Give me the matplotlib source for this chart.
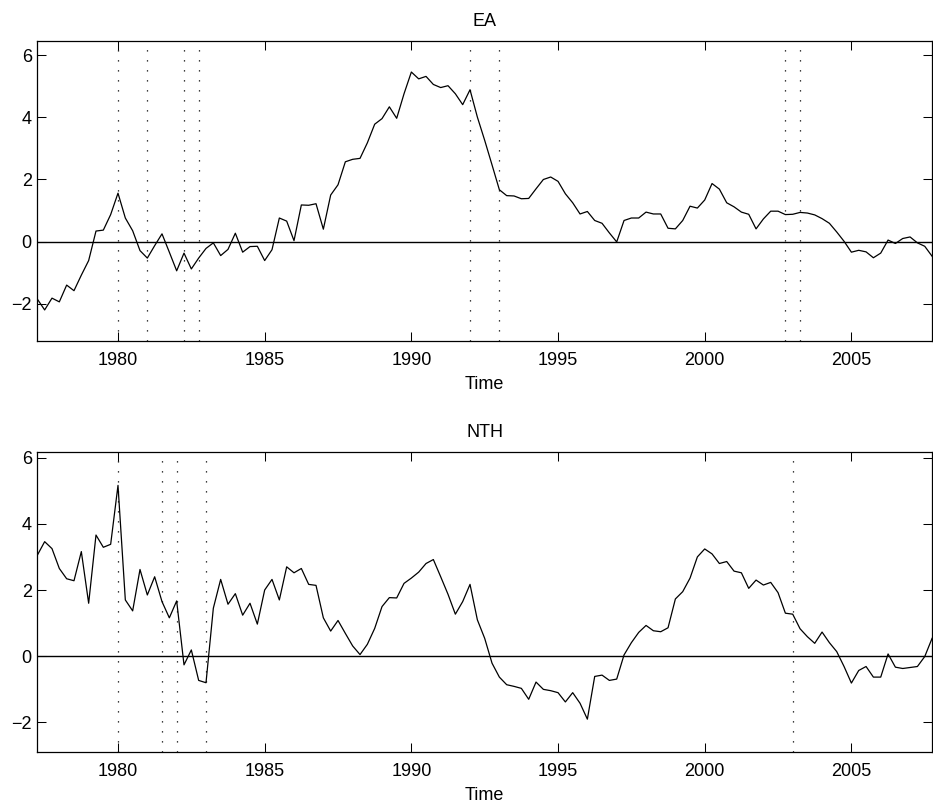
import numpy as np
import matplotlib
matplotlib.use("Agg")
import matplotlib.pyplot as plt

plt.rcParams['font.family'] = ['Liberation Sans', 'DejaVu Sans']

# quarterly, 1977Q2 .. 2007Q4
start_year = 1977.25
ea = [-1.85, -2.2, -1.82, -1.94, -1.4, -1.58, -1.08, -0.61, 0.34, 0.37,
      0.87, 1.56, 0.76, 0.35, -0.29, -0.53, -0.13, 0.25, -0.34, -0.94,
      -0.37, -0.88, -0.53, -0.22, -0.04, -0.45, -0.25, 0.27, -0.34, -0.16,
      -0.15, -0.61, -0.26, 0.76, 0.66, 0.03, 1.18, 1.17, 1.22, 0.4,
      1.5, 1.83, 2.57, 2.65, 2.68, 3.18, 3.78, 3.96, 4.34, 3.97,
      4.76, 5.46, 5.24, 5.32, 5.06, 4.96, 5.02, 4.76, 4.41, 4.89,
      4.01, 3.26, 2.47, 1.67, 1.48, 1.47, 1.38, 1.39, 1.70, 2.0,
      2.08, 1.94, 1.54, 1.25, 0.89, 0.97, 0.68, 0.59, 0.28, -0.01,
      0.68, 0.76, 0.76, 0.95, 0.89, 0.89, 0.43, 0.41, 0.68, 1.14,
      1.08, 1.34, 1.87, 1.69, 1.25, 1.12, 0.95, 0.88, 0.41, 0.73,
      0.98, 0.98, 0.87, 0.88, 0.94, 0.92, 0.86, 0.74, 0.59, 0.31,
      0.01, -0.34, -0.28, -0.33, -0.52, -0.37, 0.05, -0.06, 0.10, 0.15,
      -0.04, -0.15, -0.47]
nth = [3.05, 3.46, 3.25, 2.65, 2.34, 2.28, 3.16, 1.6, 3.66, 3.29,
       3.38, 5.16, 1.7, 1.37, 2.62, 1.85, 2.4, 1.65, 1.16, 1.67,
       -0.26, 0.19, -0.73, -0.8, 1.45, 2.32, 1.57, 1.89, 1.24, 1.6,
       0.97, 2.0, 2.32, 1.7, 2.7, 2.52, 2.65, 2.17, 2.14, 1.16,
       0.76, 1.08, 0.69, 0.31, 0.05, 0.36, 0.84, 1.5, 1.77, 1.76,
       2.2, 2.36, 2.54, 2.8, 2.92, 2.4, 1.87, 1.27, 1.65, 2.17,
       1.1, 0.54, -0.21, -0.63, -0.86, -0.91, -0.97, -1.3, -0.78, -1.0,
       -1.04, -1.1, -1.38, -1.1, -1.42, -1.9, -0.61, -0.57, -0.73, -0.69,
       0.04, 0.41, 0.72, 0.93, 0.77, 0.74, 0.86, 1.73, 1.95, 2.36,
       3.0, 3.24, 3.09, 2.8, 2.86, 2.57, 2.52, 2.05, 2.3, 2.15,
       2.23, 1.92, 1.3, 1.27, 0.83, 0.59, 0.39, 0.73, 0.41, 0.14,
       -0.31, -0.81, -0.43, -0.31, -0.63, -0.63, 0.07, -0.33, -0.37, -0.34,
       -0.31, -0.01, 0.54]
ea_dates = [1980.0, 1981.0, 1982.25, 1982.75, 1992.0, 1993.0, 2002.75, 2003.25]
nth_dates = [1980.0, 1981.5, 1982.0, 1983.0, 2003.0]

t = start_year + 0.25 * np.arange(len(ea))

fig = plt.figure(figsize=(9.33, 8.05), dpi=100)
boxes = [[0.040, 0.5764, 0.959, 0.3727], [0.040, 0.0655, 0.959, 0.3727]]

for box, name, y, dates in [(boxes[0], "EA", ea, ea_dates),
                            (boxes[1], "NTH", nth, nth_dates)]:
    ax = fig.add_axes(box)
    ax.plot(t, y, color='black', lw=0.9)
    ax.axhline(0, color='black', lw=1.0)
    for d in dates:
        ax.axvline(d, ymax=0.975, color='black', lw=0.9, ls=(0, (1, 7)))
    ax.set_xlim(t[0], t[-1])
    ax.set_ylim(min(y) - 1, max(y) + 1)
    ax.set_xticks([1980, 1985, 1990, 1995, 2000, 2005])
    ax.set_yticks([-2, 0, 2, 4, 6])
    ax.tick_params(direction='in', length=6.5, width=0.75, top=True, right=True,
                   labelsize=13)
    ax.tick_params(axis='x', pad=8)
    ax.tick_params(axis='y', pad=4)
    for s in ax.spines.values():
        s.set_linewidth(0.9)
    ax.set_title(name, fontsize=13, pad=11)
    ax.set_xlabel("Time", fontsize=13, labelpad=5)

fig.savefig("out.png", dpi=100)
